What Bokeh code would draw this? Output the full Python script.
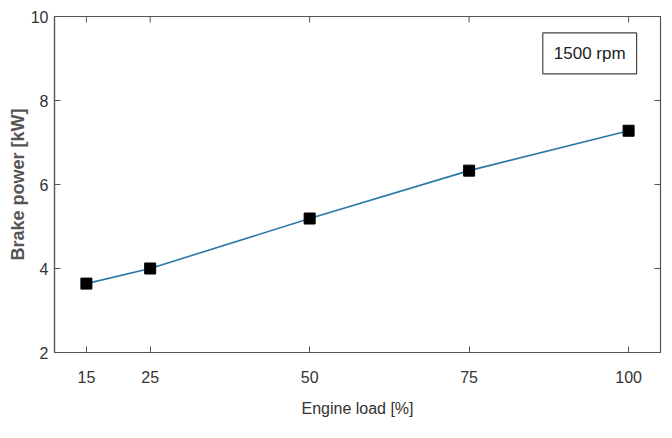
import math
from bokeh.plotting import figure
from bokeh.models import LinearAxis, FixedTicker, Label, Range1d
from bokeh.embed import file_html
from bokeh.resources import INLINE

# Data
engine_load = [15, 25, 50, 75, 100]
brake_power = [3.64, 4.00, 5.19, 6.33, 7.28]
x_ticks = [15, 25, 50, 75, 100]
y_ticks = [2, 4, 6, 8, 10]
x_lo, x_hi = 10, 105
y_lo, y_hi = 2, 10
legend_text = "1500 rpm"

AXIS_COLOR = "#555555"
TEXT_COLOR = "#333333"
FONT = "Liberation Sans, Arial, sans-serif"

p = figure(width=662, height=428, output_backend="svg", toolbar_location=None,
           x_range=Range1d(x_lo, x_hi), y_range=Range1d(y_lo, y_hi),
           min_border_left=54, min_border_top=16, min_border_bottom=76, min_border_right=2,
           x_axis_location=None, y_axis_location=None)
p.xgrid.visible = False
p.ygrid.visible = False
p.outline_line_color = AXIS_COLOR
p.outline_line_width = 1.2


def style(ax, ticks):
    ax.ticker = FixedTicker(ticks=ticks)
    ax.axis_line_color = AXIS_COLOR
    ax.axis_line_width = 1.2
    ax.major_tick_line_color = AXIS_COLOR
    ax.major_tick_in = 6
    ax.major_tick_out = 0
    ax.minor_tick_line_color = None
    ax.major_label_text_font = FONT
    ax.major_label_text_color = TEXT_COLOR
    ax.major_label_text_font_size = "16px"


xb = LinearAxis(axis_label="Engine load [%]")
style(xb, x_ticks)
xb.major_label_standoff = 18
xb.axis_label_standoff = 14
xb.axis_label_text_font = FONT
xb.axis_label_text_font_style = "normal"
xb.axis_label_text_font_size = "16px"
xb.axis_label_text_color = TEXT_COLOR
p.add_layout(xb, "below")

yl = LinearAxis(axis_label="Brake power [kW]")
style(yl, y_ticks)
yl.major_label_standoff = 6
yl.axis_label_standoff = 0
yl.axis_label_text_font = FONT
yl.axis_label_text_font_style = "bold"
yl.axis_label_text_font_size = "18px"
yl.axis_label_text_color = "#555555"
p.add_layout(yl, "left")

# mirrored inward ticks on top and right edges
p.ray(x=x_ticks, y=[y_hi] * len(x_ticks), angle=-math.pi / 2, length=6,
      length_units="screen", line_color=AXIS_COLOR, line_width=1)
p.ray(x=[x_hi] * len(y_ticks), y=y_ticks, angle=math.pi, length=6,
      length_units="screen", line_color=AXIS_COLOR, line_width=1)

p.line(engine_load, brake_power, line_color="#2b78a8", line_width=1.6)
p.scatter(engine_load, brake_power, marker="square", size=11,
          fill_color="black", line_color="black")

lab = Label(x=93.9, y=9.12, text=legend_text, text_align="center", text_baseline="middle",
            text_font=FONT, text_font_size="17px", text_color="#222222",
            border_line_color="#444444", border_line_width=1.2,
            background_fill_color="white", padding=11)
p.add_layout(lab)

open("out.html", "w").write(file_html(p, INLINE))
